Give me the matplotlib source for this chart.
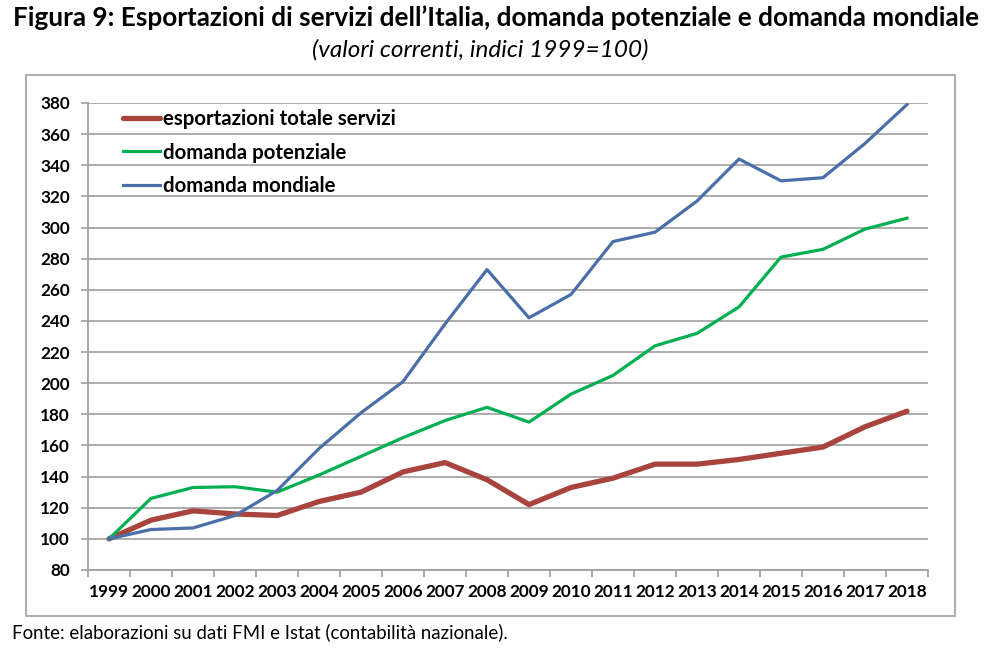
import numpy as np
import matplotlib.pyplot as plt
from matplotlib.patches import Rectangle

years = [str(y) for y in range(1999, 2019)]
esportazioni = [100, 112, 118, 116, 115, 124, 130, 143, 149, 138,
                122, 133, 139, 148, 148, 151, 155, 159, 172, 182]
potenziale = [100, 126, 133, 133.5, 130, 141, 153, 165, 176, 184.5,
              175, 193, 205, 224, 232, 249, 281, 286, 299, 306]
mondiale = [100, 106, 107, 115, 131, 158, 181, 201, 238, 273,
            242, 257, 291, 297, 317, 344, 330, 332, 354, 379]

plt.rcParams['font.family'] = ['Lato', 'DejaVu Sans']

fig = plt.figure(figsize=(9.92, 6.56), dpi=100)
ax = fig.add_axes([88 / 992, 86 / 656, 840 / 992, 467 / 656])

x = np.arange(len(years))
ax.plot(x, esportazioni, color='#A9433E', lw=3.8, label='esportazioni totale servizi',
        solid_capstyle='round', zorder=3)
ax.plot(x, potenziale, color='#00B050', lw=2.3, label='domanda potenziale', zorder=3)
ax.plot(x, mondiale, color='#4A6FA8', lw=2.3, label='domanda mondiale', zorder=3)

ax.set_xlim(-0.5, len(years) - 0.5)
ax.set_ylim(80, 380)
ax.set_yticks(range(80, 381, 20))
ax.set_xticks(x)
ax.set_xticklabels(years, fontweight='bold', fontsize=12.3)
ax.set_xticks(np.arange(-0.5, len(years), 1), minor=True)
ax.tick_params(axis='x', which='major', length=0, pad=10)
ax.tick_params(axis='x', which='minor', length=5, color='#A0A0A0', width=1.2)
ax.tick_params(axis='y', length=5, color='#A0A0A0', width=1.2, pad=8)
for lab in ax.get_yticklabels():
    lab.set_fontweight('bold')
    lab.set_fontsize(12.3)

ax.grid(axis='y', color='#A6A6A6', lw=1.3, zorder=0)
ax.set_axisbelow(True)
for s in ['top', 'right']:
    ax.spines[s].set_visible(False)
for s in ['left', 'bottom']:
    ax.spines[s].set_color('#A0A0A0')
    ax.spines[s].set_linewidth(1.3)

leg = ax.legend(loc='upper left', bbox_to_anchor=(0.020, 1.026), frameon=False,
                handlelength=1.8, handletextpad=0.15, labelspacing=0.65,
                prop={'weight': 'bold', 'size': 14.7})

fig.patches.append(Rectangle((26 / 992, 1 - 616 / 656), 929 / 992, 541 / 656,
                             transform=fig.transFigure, fill=False,
                             edgecolor='#B0B0B0', lw=1.5))

fig.text(496 / 992, 1 - 18 / 656, "Figura 9: Esportazioni di servizi dell\u2019Italia, domanda potenziale e domanda mondiale",
         ha='center', va='center', fontsize=18.8, fontweight='bold')
fig.text(480 / 992, 1 - 50 / 656, "(valori correnti, indici 1999=100)",
         ha='center', va='center', fontsize=17.5, style='italic')
fig.text(12 / 992, 1 - 632 / 656, "Fonte: elaborazioni su dati FMI e Istat (contabilit\u00e0 nazionale).",
         ha='left', va='center', fontsize=13.4)

fig.savefig('out.png', dpi=100)
